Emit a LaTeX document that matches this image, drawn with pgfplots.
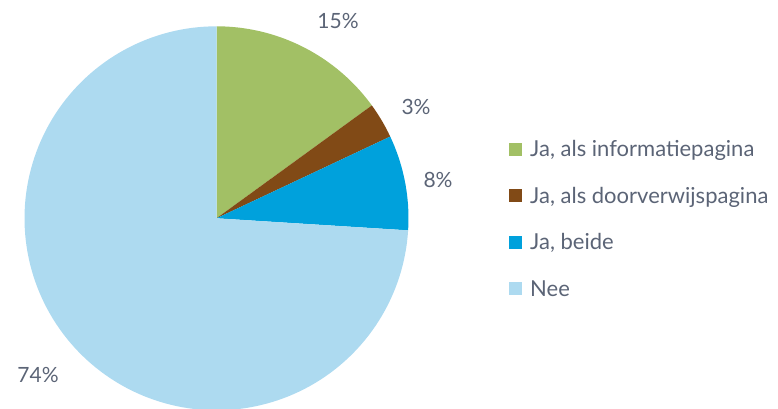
\documentclass[border=0pt]{standalone}
\usepackage{fontspec}
\setmainfont{Lato}
\usepackage{pgfplots}
\pgfplotsset{compat=1.18}
\definecolor{cgreen}{RGB}{162,192,101}
\definecolor{cbrown}{RGB}{129,74,22}
\definecolor{cblue}{RGB}{0,161,220}
\definecolor{clight}{RGB}{173,218,240}
\definecolor{txt}{RGB}{91,100,118}

% pie centre and radius, in picture pixels
\def\cx{216.5}
\def\cy{190.7}
\def\rr{192}

\begin{document}
\begin{tikzpicture}
\begin{axis}[
  name=ax,
  hide axis,
  scale only axis,
  width=778pt, height=409pt,
  xmin=0, xmax=778, ymin=0, ymax=409,
  legend cell align=left,
  legend image code/.code={\fill[#1] (0pt,-6.5pt) rectangle (13pt,6.5pt);},
  legend style={draw=none, fill=none, font=\fontsize{22}{24}\selectfont\color{txt},
    at={(axis cs:509,271)}, anchor=north west,
    row sep=25pt, inner sep=0pt,
    /tikz/every odd column/.append style={column sep=6pt}},
]
% shares in percent: 15, 3, 8, 74 (clockwise from the top)
\addplot[fill=cgreen, draw=none, domain={90-3.6*15}:90, samples=40]
  ({\cx+\rr*cos(x)},{\cy+\rr*sin(x)}) -- (axis cs:\cx,\cy) -- cycle;
\addlegendentry{Ja, als informatiepagina}
\addplot[fill=cbrown, draw=none, domain={90-3.6*18}:{90-3.6*15}, samples=10]
  ({\cx+\rr*cos(x)},{\cy+\rr*sin(x)}) -- (axis cs:\cx,\cy) -- cycle;
\addlegendentry{Ja, als doorverwijspagina}
\addplot[fill=cblue, draw=none, domain={90-3.6*26}:{90-3.6*18}, samples=20]
  ({\cx+\rr*cos(x)},{\cy+\rr*sin(x)}) -- (axis cs:\cx,\cy) -- cycle;
\addlegendentry{Ja, beide}
\addplot[fill=clight, draw=none, domain={90-3.6*100}:{90-3.6*26}, samples=150]
  ({\cx+\rr*cos(x)},{\cy+\rr*sin(x)}) -- (axis cs:\cx,\cy) -- cycle;
\addlegendentry{Nee}

\begin{scope}[every node/.style={font=\fontsize{21}{24}\selectfont, text=txt}]
\node at (axis cs:338,388) {15\%};
\node at (axis cs:416,302) {3\%};
\node at (axis cs:438,229) {8\%};
\node at (axis cs:38,34) {74\%};
\end{scope}
\end{axis}
\pgfresetboundingbox
\path[use as bounding box] (ax.south west) rectangle (ax.north east);
\end{tikzpicture}
\end{document}
